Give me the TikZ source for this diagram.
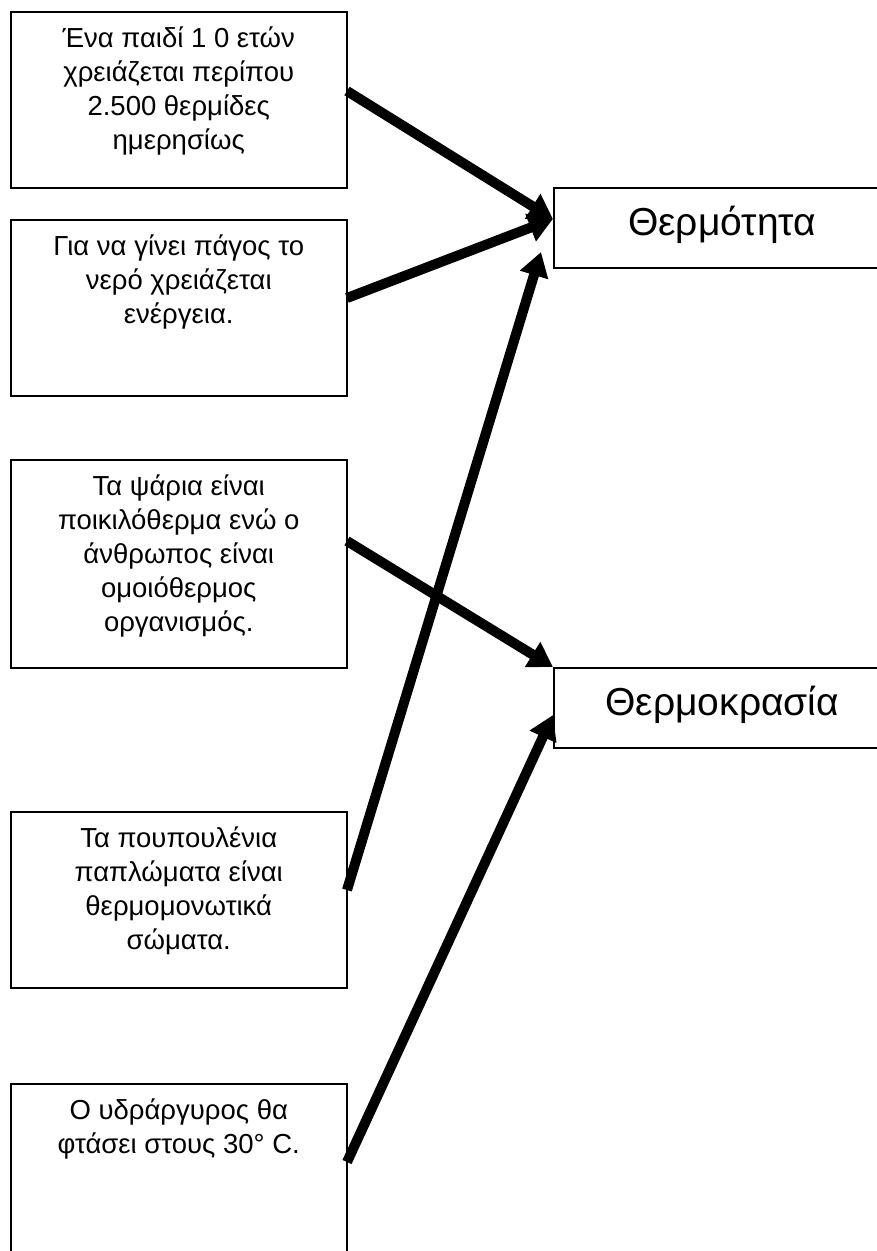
\documentclass[tikz,border=0pt]{standalone}
\usepackage{fontspec}
\setmainfont{Liberation Sans}
\usetikzlibrary{arrows.meta}

% Statement box: fixed size, text set from the top
\newcommand{\stmt}[2]{\parbox[t][#1][t]{336pt}{\centering\fontsize{27.5pt}{34pt}\selectfont\rule{0pt}{36pt}#2\par}}
\newcommand{\concept}[1]{\parbox[t][80pt][t]{337pt}{\centering\fontsize{39pt}{44pt}\selectfont\rule{0pt}{48pt}#1\par}}

\tikzset{
  box/.style={draw=black, line width=1.5pt, inner sep=0pt, anchor=north west, fill=white},
  link/.style={line width=10pt, -{Triangle[length=24pt,width=28pt]}},
}

\begin{document}
\begin{tikzpicture}[x=1pt, y=-1pt]
\useasboundingbox[fill=white] (0,0) rectangle (877,1251);

% left column: statements
\node[box] (s1) at (10,11)   {\stmt{176pt}{Ένα παιδί 1 0 ετών\\χρειάζεται περίπου\\2.500 θερμίδες\\ημερησίως}};
\node[box] (s2) at (10,219)  {\stmt{176pt}{Για να γίνει πάγος το\\νερό χρειάζεται\\ενέργεια.}};
\node[box] (s3) at (10,459)  {\stmt{208pt}{Τα ψάρια είναι\\ποικιλόθερμα ενώ ο\\άνθρωπος είναι\\ομοιόθερμος\\οργανισμός.}};
\node[box] (s4) at (10,811)  {\stmt{176pt}{Τα πουπουλένια\\παπλώματα είναι\\θερμομονωτικά\\σώματα.}};
\node[box] (s5) at (10,1083) {\stmt{200pt}{Ο υδράργυρος θα\\φτάσει στους 30° C.}};

% right column: concepts
\node[box] (heat) at (553,187) {\concept{Θερμότητα}};
\node[box] (temp) at (553,667) {\concept{Θερμοκρασία}};

% connector end points on the box sides
\coordinate (s1e) at (347,91);
\coordinate (s2e) at (347,298);
\coordinate (s3e) at (347,541);
\coordinate (s4e) at (347,890);
\coordinate (s5e) at (347,1162);
\coordinate (h1) at (553,219);
\coordinate (h2) at (541,252);
\coordinate (t1) at (553,667);
\coordinate (t2) at (553,715);

\draw[link] (s1e) -- (h1);
\draw[link] (s2e) -- (h1);
\draw[link] (s4e) -- (h2);
\draw[link] (s3e) -- (t1);
\draw[link] (s5e) -- (t2);
\end{tikzpicture}
\end{document}
